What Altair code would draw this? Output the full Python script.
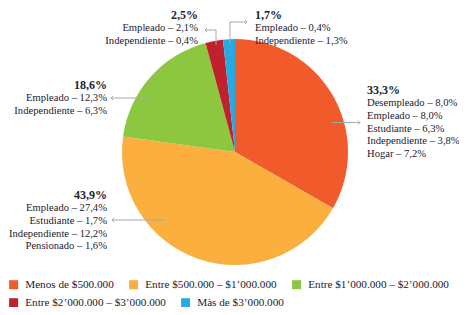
import altair as alt
import pandas as pd

# ---- data ----
categories = [
    "Menos de $500.000",
    "Entre $500.000 – $1’000.000",
    "Entre $1’000.000 – $2’000.000",
    "Entre $2’000.000 – $3’000.000",
    "Màs de $3’000.000",
]
values = [33.3, 43.9, 18.6, 2.5, 1.7]
colors = ["#F15A2B", "#FBAF3F", "#8DC63F", "#C1202F", "#27AAE1"]
totals = ["33,3%", "43,9%", "18,6%", "2,5%", "1,7%"]
details = [
    ["Desempleado – 8,0%", "Empleado – 8,0%", "Estudiante – 6,3%",
     "Independiente – 3,8%", "Hogar – 7,2%"],
    ["Empleado – 27,4%", "Estudiante – 1,7%", "Independiente – 12,2%",
     "Pensionado – 1,6%"],
    ["Empleado – 12,3%", "Independiente – 6,3%"],
    ["Empleado – 2,1%", "Independiente – 0,4%"],
    ["Empleado – 0,4%", "Independiente – 1,3%"],
]

# ---- layout (label anchors, callout lines) ----
FONT = "Liberation Serif"
TXT = "#222230"
GRAY = "#a8a8a8"
FS = 10.6
anchor_x = [359, 99, 99, 190, 247]
anchor_y = [82, 187, 77, 6.5, 6.5]
anchor_align = ["left", "right", "right", "right", "left"]
first_gap = 13.3
line_h = 12.7

rows = []
for i in range(len(categories)):
    rows.append(dict(x=anchor_x[i], y=anchor_y[i], t=totals[i],
                     align=anchor_align[i], bold=1))
    for j, d in enumerate(details[i]):
        rows.append(dict(x=anchor_x[i], y=anchor_y[i] + first_gap + j * line_h,
                         t=d, align=anchor_align[i], bold=0))
ann = pd.DataFrame(rows)

segs = pd.DataFrame([
    dict(x=324, y=114.5, x2=352, y2=114.5),
    dict(x=145, y=90, x2=103, y2=90),
    dict(x=157, y=212, x2=104, y2=212),
    dict(x=208, y=37, x2=208, y2=22),
    dict(x=208, y=22, x2=197, y2=22),
    dict(x=222, y=35, x2=222, y2=14),
    dict(x=222, y=14, x2=239, y2=14),
])
heads = pd.DataFrame([
    dict(x=352, y=114.5, dir="r"),
    dict(x=103, y=90, dir="l"),
    dict(x=104, y=212, dir="l"),
    dict(x=197, y=22, dir="l"),
    dict(x=239, y=14, dir="r"),
])

pie_df = pd.DataFrame({"cat": categories, "value": values,
                       "idx": list(range(len(categories)))})


def make_legend(y):
    return alt.Legend(
        orient="none", legendX=0, legendY=y, direction="horizontal",
        title=None, symbolType="square", symbolSize=81, symbolStrokeWidth=0,
        labelFont=FONT, labelFontSize=11.2, labelColor=TXT, labelOffset=6,
        columnPadding=14, labelLimit=300,
    )


theta_scale = alt.Scale(domain=[0, 100])
base = alt.Chart(pie_df).transform_window(
    cum="sum(value)", sort=[alt.SortField("idx")]
).transform_calculate(start="datum.cum - datum.value")

pie1 = base.transform_filter("datum.idx < 3").mark_arc(outerRadius=113).encode(
    theta=alt.Theta("start:Q", scale=theta_scale),
    theta2="cum:Q",
    color=alt.Color("cat:N", scale=alt.Scale(domain=categories[:3], range=colors[:3]),
                    sort=categories[:3], legend=make_legend(271)),
    x=alt.value(227),
    y=alt.value(144),
)
pie2 = base.transform_filter("datum.idx >= 3").mark_arc(outerRadius=113).encode(
    theta=alt.Theta("start:Q", scale=theta_scale),
    theta2="cum:Q",
    fill=alt.Fill("cat:N", scale=alt.Scale(domain=categories[3:], range=colors[3:]),
                  sort=categories[3:], legend=make_legend(289)),
    x=alt.value(227),
    y=alt.value(144),
)

X = alt.X("x:Q", scale=None, axis=None)
Y = alt.Y("y:Q", scale=None, axis=None)

lines = alt.Chart(segs).mark_rule(color=GRAY, strokeWidth=1).encode(
    x=X, y=Y, x2="x2:Q", y2="y2:Q")

chev = "M-1,-1L0,0L-1,1"
head_r = alt.Chart(heads).transform_filter("datum.dir == 'r'").mark_point(
    shape=chev, filled=False, size=16, color=GRAY, strokeWidth=1, opacity=1
).encode(x=X, y=Y)
head_l = alt.Chart(heads).transform_filter("datum.dir == 'l'").mark_point(
    shape=chev, filled=False, size=16, color=GRAY, strokeWidth=1, opacity=1,
    angle=180
).encode(x=X, y=Y)


def txt(align, bold):
    return alt.Chart(ann).transform_filter(
        f"datum.align == '{align}' && datum.bold == {bold}"
    ).mark_text(
        font=FONT, fontSize=12 if bold else FS, color=TXT, align=align,
        baseline="middle", fontWeight="bold" if bold else "normal"
    ).encode(x=X, y=Y, text="t:N")


chart = alt.layer(
    pie1, pie2, lines, head_r, head_l,
    txt("left", 1), txt("left", 0), txt("right", 1), txt("right", 0),
).resolve_scale(color="independent", fill="independent").properties(
    width=451, height=299, autosize=alt.AutoSizeParams(type="none"),
    padding=0,
).configure_view(stroke=None)

chart.save("out.html", embed_options={"renderer": "svg", "actions": False})
